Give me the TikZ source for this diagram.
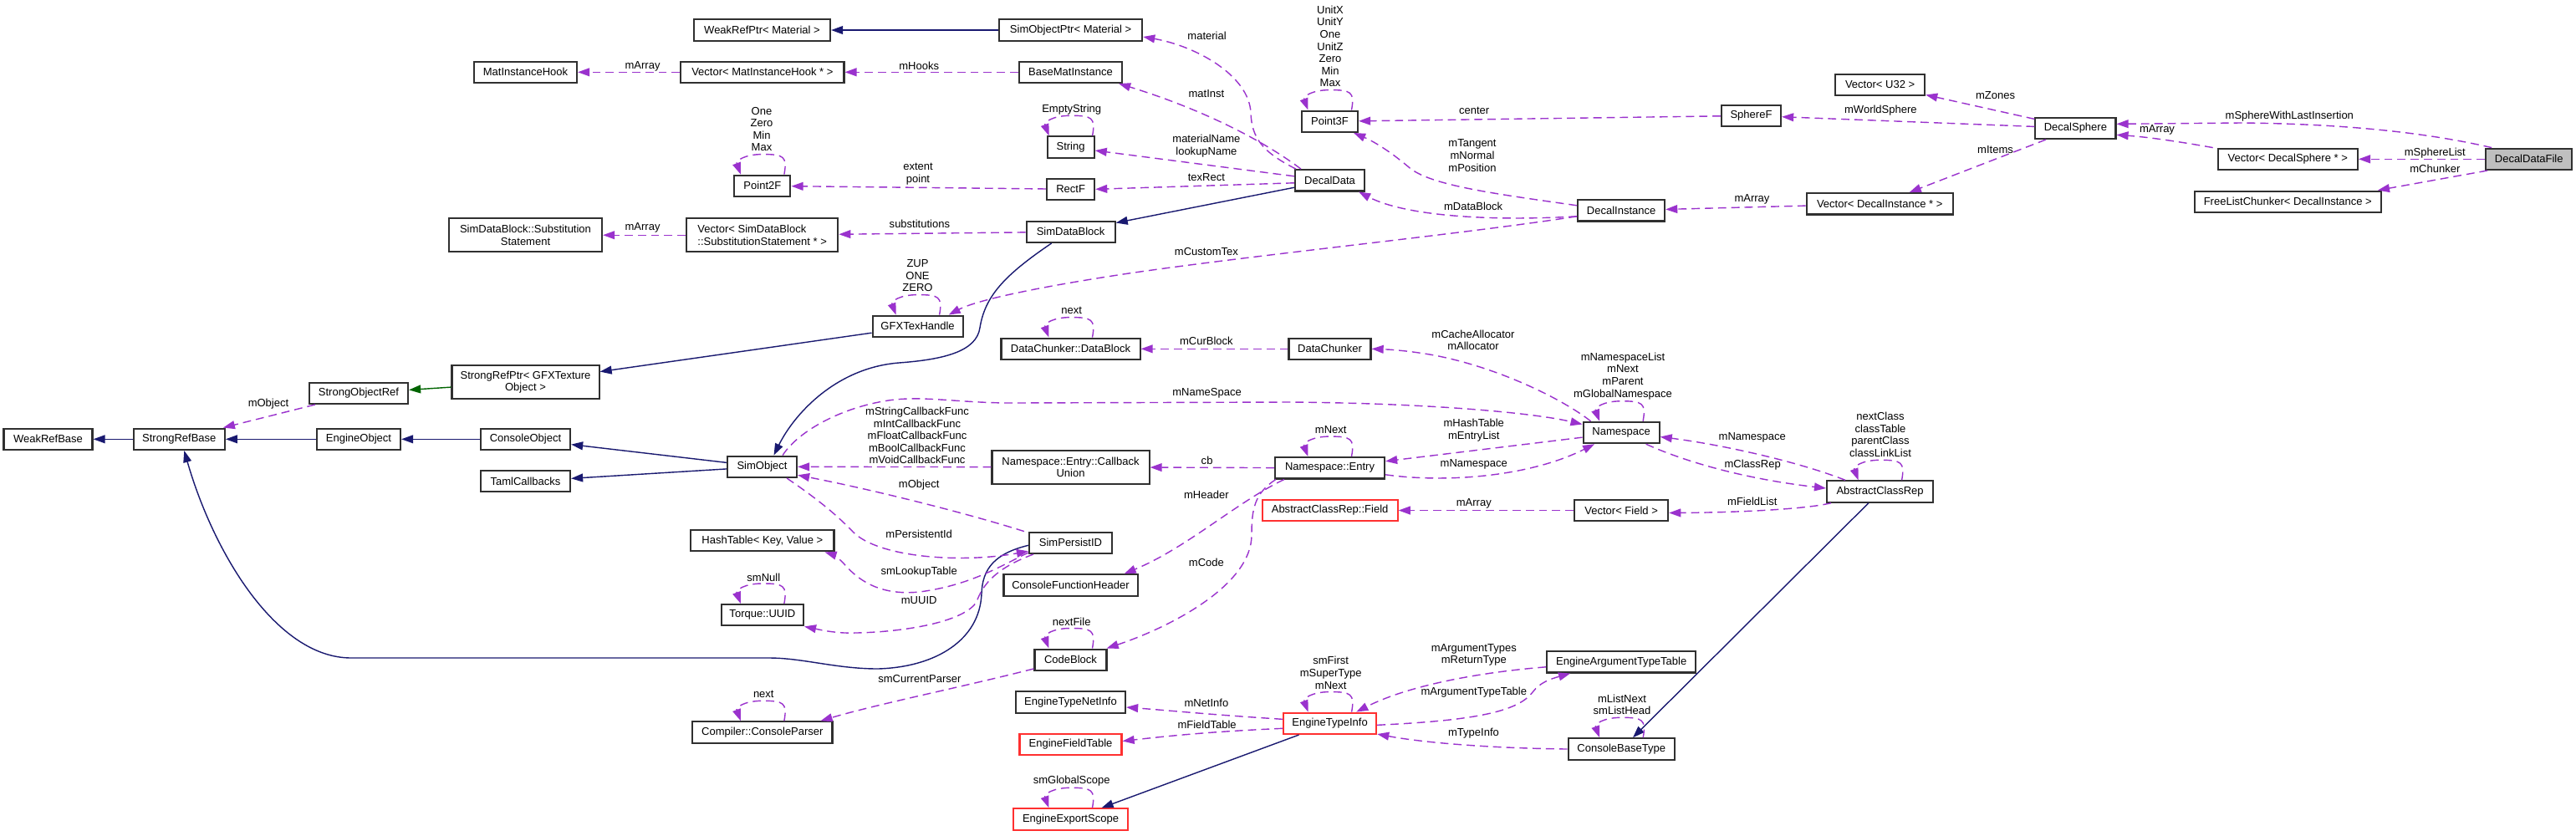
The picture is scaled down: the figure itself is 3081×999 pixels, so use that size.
\documentclass[tikz,border=0pt]{standalone}
\usepackage{fontspec}
\setmainfont{Liberation Sans}
\usetikzlibrary{arrows.meta}
\definecolor{depc}{HTML}{9A32CD}
\definecolor{inhc}{HTML}{191970}
\definecolor{grnc}{HTML}{006400}
\definecolor{boxc}{HTML}{303030}
\definecolor{redc}{HTML}{FF3030}
\definecolor{fillc}{HTML}{BFBFBF}
\newcommand\dgfont{\fontsize{3.7pt}{4.15pt}\selectfont}
\newcommand\selfloop[1]{\draw[dep] ([shift={(26,0)}]#1.north) .. controls +(4,-22) and +(25,0) .. ([shift={(0,-24)}]#1.north) .. controls +(-22,0) and +(-6,-16) .. ([shift={(-26,0)}]#1.north);}
\begin{document}
\begin{tikzpicture}[x=0.01cm,y=-0.01cm,
 box/.style={draw=boxc, line width=0.6pt, fill=white, inner sep=0pt, minimum height=0.253cm, font=\dgfont, align=center},
 box2/.style={box, minimum height=0.40cm},
 rbox/.style={box, draw=redc},
 dep/.style={draw=depc, line width=0.4pt, dash pattern=on 2.8pt off 1.7pt, -{Triangle[length=4pt,width=2.8pt]}},
 inh/.style={draw=inhc, line width=0.4pt, -{Triangle[length=4pt,width=2.8pt]}},
 lbl/.style={font=\dgfont, inner sep=0pt, align=center}]
\useasboundingbox[fill=white] (0,0) rectangle (3081,999);

% ---------- nodes ----------
\node[box, minimum width=1.06cm] (wrb) at (57.5,525.3) {WeakRefBase};
\node[box, minimum width=1.09cm] (srb) at (214.3,525.3) {StrongRefBase};
\node[box, minimum width=1.00cm] (eo) at (429,525.3) {EngineObject};
\node[box, minimum width=1.18cm] (sor) at (429,470.3) {StrongObjectRef};
\node[box, minimum width=1.07cm] (co) at (628.5,525.3) {ConsoleObject};
\node[box, minimum width=1.07cm] (taml) at (628.5,575.7) {TamlCallbacks};
\node[box2, minimum width=1.76cm] (srp) at (628.5,457.3) {StrongRefPtr< GFXTexture\\Object >};
\node[box2, minimum width=1.83cm] (sdbss) at (628.5,281.2) {SimDataBlock::Substitution\\Statement};
\node[box, minimum width=1.23cm] (mih) at (628.5,86.3) {MatInstanceHook};
\node[box, minimum width=1.63cm] (wrpm) at (911.5,36) {WeakRefPtr< Material >};
\node[box, minimum width=1.95cm] (vmih) at (911.9,86.3) {Vector< MatInstanceHook * >};
\node[box, minimum width=0.67cm] (p2f) at (911.9,222.3) {Point2F};
\node[box2, minimum width=1.81cm, align=left] (vsdb) at (911.7,281.2) {Vector< SimDataBlock\\::SubstitutionStatement * >};
\node[box, minimum width=0.83cm] (so) at (911.5,558.3) {SimObject};
\node[box, minimum width=1.71cm] (ht) at (911.9,646.7) {HashTable< Key, Value >};
\node[box, minimum width=0.98cm] (uuid) at (911.9,735.7) {Torque::UUID};
\node[box, minimum width=1.67cm] (cp) at (911.9,876) {Compiler::ConsoleParser};
\node[box, minimum width=1.08cm] (gfx) at (1097.6,390.3) {GFXTexHandle};
\node[box, minimum width=1.71cm] (sopm) at (1280.6,36) {SimObjectPtr< Material >};
\node[box, minimum width=1.23cm] (bmi) at (1280.5,86.3) {BaseMatInstance};
\node[box, minimum width=0.56cm] (str) at (1280.6,176) {String};
\node[box, minimum width=0.57cm] (rect) at (1280.6,226.3) {RectF};
\node[box, minimum width=1.06cm] (sdb) at (1280.6,277.3) {SimDataBlock};
\node[box, minimum width=1.66cm] (dcdb) at (1280.5,417.3) {DataChunker::DataBlock};
\node[box2, minimum width=1.88cm] (cbu) at (1280.5,558.7) {Namespace::Entry::Callback\\Union};
\node[box, minimum width=0.99cm] (spid) at (1280.5,649.3) {SimPersistID};
\node[box, minimum width=1.60cm] (cfh) at (1280.5,700) {ConsoleFunctionHeader};
\node[box, minimum width=0.86cm] (cb) at (1280.5,789.2) {CodeBlock};
\node[box, minimum width=1.31cm] (etni) at (1280.5,840) {EngineTypeNetInfo};
\node[rbox, minimum width=1.22cm] (eft) at (1280.5,890.5) {EngineFieldTable};
\node[rbox, minimum width=1.37cm] (ees) at (1280.5,980) {EngineExportScope};
\node[box, minimum width=0.67cm] (p3f) at (1590.5,145.3) {Point3F};
\node[box, minimum width=0.83cm] (dd) at (1590.5,215.8) {DecalData};
\node[box, minimum width=0.98cm] (dc) at (1590.5,417.3) {DataChunker};
\node[box, minimum width=1.31cm] (nse) at (1590.5,559.8) {Namespace::Entry};
\node[rbox, minimum width=1.62cm] (acrf) at (1590.6,610.5) {AbstractClassRep::Field};
\node[rbox, minimum width=1.11cm] (eti) at (1590.6,865.3) {EngineTypeInfo};
\node[box, minimum width=1.04cm] (di) at (1939.1,251.8) {DecalInstance};
\node[box, minimum width=0.91cm] (ns) at (1939.1,517.5) {Namespace};
\node[box, minimum width=1.12cm] (vf) at (1939.1,610.5) {Vector< Field >};
\node[box, minimum width=1.78cm] (eatt) at (1939.2,791.8) {EngineArgumentTypeTable};
\node[box, minimum width=1.27cm] (cbt) at (1939.2,896) {ConsoleBaseType};
\node[box, minimum width=0.71cm] (sph) at (2094.5,138.3) {SphereF};
\node[box, minimum width=1.07cm] (vu32) at (2248.6,101.3) {Vector< U32 >};
\node[box, minimum width=1.75cm] (vdi) at (2248.2,243.8) {Vector< DecalInstance * >};
\node[box, minimum width=1.27cm] (acr) at (2248.6,588) {AbstractClassRep};
\node[box, minimum width=0.96cm] (ds) at (2482.4,153.3) {DecalSphere};
\node[box, minimum width=1.67cm] (vds) at (2736.3,190.3) {Vector< DecalSphere * >};
\node[box, minimum width=2.23cm] (flc) at (2736.3,241.3) {FreeListChunker< DecalInstance >};
\node[box, minimum width=1.03cm, fill=fillc] (ddf) at (3024.7,190.3) {DecalDataFile};

% ---------- inheritance ----------
\draw[inh] (srb) -- (wrb);
\draw[inh] (eo) -- (srb);
\draw[inh] (co) -- (eo);
\draw[inh] (so) -- (co);
\draw[inh] (so) -- (taml);
\draw[inh] ([shift={(-23,0)}]sdb.south) .. controls (1200,330) and (1178,355) .. (1172,392) .. controls (1168,420) and (1130,430) .. (1075,434) .. controls (1000,440) and (950,495) .. ([shift={(14,0)}]so.north);
\draw[inh] (dd) -- (sdb);
\draw[inh] (gfx) -- (srp);
\draw[inh, draw=grnc] (srp) -- (sor);
\draw[inh] (sopm) -- (wrpm);
\draw[inh] ([shift={(0,3)}]spid.west) .. controls (1190,662) and (1175,680) .. (1174,710) .. controls (1172,765) and (1120,798) .. (1050,800) .. controls (1000,800) and (960,787) .. (920,787) -- (420,787) .. controls (330,787) and (255,660) .. ([shift={(6,0)}]srb.south);
\draw[inh] (eti) -- (ees);
\draw[inh] (acr) -- (cbt);

% ---------- usage ----------
\draw[dep] ([shift={(8,0)}]ddf.north west) .. controls (2900,158) and (2800,148) .. (2680,147) -- ([shift={(0,-5)}]ds.east);
\draw[dep] (ddf) -- (vds);
\draw[dep] ([shift={(3,0)}]ddf.south west) -- ([shift={(-5,0)}]flc.north east);
\draw[dep] ([shift={(-5,0)}]vds.north west) .. controls (2610,170) and (2570,164) .. ([shift={(0,8)}]ds.east);
\draw[dep] (ds) -- (vu32);
\draw[dep] (ds) -- (sph);
\draw[dep] (ds) -- (vdi);
\draw[dep] (vdi) -- (di);
\draw[dep] (sph) -- (p3f);
\draw[dep] ([shift={(0,-6)}]di.west) .. controls (1790,232) and (1710,222) .. (1685,200) .. controls (1665,183) and (1645,170) .. ([shift={(-6,0)}]p3f.south east);
\draw[dep] ([shift={(0,7)}]di.west) .. controls (1780,265) and (1680,258) .. ([shift={(-8,0)}]dd.south east);
\draw[dep] ([shift={(0,7)}]di.west) .. controls (1750,280) and (1500,305) .. (1350,327) .. controls (1250,342) and (1170,358) .. ([shift={(-18,0)}]gfx.north east);
\draw[dep] ([shift={(2,0)}]dd.north west) .. controls (1510,182) and (1497,165) .. (1496,135) .. controls (1494,90) and (1430,55) .. ([shift={(0,8)}]sopm.east);
\draw[dep] ([shift={(8,0)}]dd.north west) .. controls (1500,160) and (1420,125) .. ([shift={(-5,0)}]bmi.south east);
\draw[dep] ([shift={(0,-5)}]dd.west) -- ([shift={(0,4)}]str.east);
\draw[dep] ([shift={(0,3)}]dd.west) -- (rect.east);
\draw[dep] (rect) -- (p2f);
\draw[dep] (vmih) -- (mih);
\draw[dep] (bmi) -- (vmih);
\draw[dep] (sdb) -- (vsdb);
\draw[dep] (vsdb) -- (sdbss);
\draw[dep] ([shift={(8,0)}]sor.south west) -- ([shift={(-3,0)}]srb.north east);
\draw[dep] (dc) -- (dcdb);
\draw[dep] ([shift={(10,0)}]ns.north west) .. controls (1870,478) and (1790,438) .. (1710,424) .. controls (1680,419) and (1660,418) .. (dc.east);
\draw[dep] ([shift={(-18,0)}]so.north east) .. controls (955,515) and (1010,485) .. (1070,478) .. controls (1110,474) and (1150,482) .. (1210,482) -- (1540,481) .. controls (1700,482) and (1830,493) .. ([shift={(0,-10)}]ns.west);
\draw[dep] (cbu) -- (so);
\draw[dep] (nse) -- (cbu);
\draw[dep] ([shift={(-5,0)}]spid.north west) .. controls (1150,612) and (1040,585) .. ([shift={(0,10)}]so.east);
\draw[dep] ([shift={(-13,0)}]so.south east) .. controls (975,595) and (1000,615) .. (1020,636) .. controls (1050,667) and (1150,674) .. ([shift={(0,10)}]spid.west);
\draw[dep] ([shift={(0,-2)}]spid.south west) .. controls (1195,678) and (1160,700) .. (1100,708) .. controls (1050,713) and (1025,692) .. (1010,675) .. controls (1003,667) and (995,663) .. ([shift={(-12,0)}]ht.south east);
\draw[dep] ([shift={(6,0)}]spid.south west) .. controls (1190,680) and (1175,700) .. (1168,720) .. controls (1150,748) and (1060,758) .. (1010,757) .. controls (990,756) and (975,752) .. (uuid.south east);
\draw[dep] ([shift={(0,-3)}]cb.south west) .. controls (1150,822) and (1050,842) .. ([shift={(-15,0)}]cp.north east);
\draw[dep] ([shift={(12,0)}]nse.south west) .. controls (1480,600) and (1420,655) .. ([shift={(-17,0)}]cfh.north east);
\draw[dep] ([shift={(2,0)}]nse.south west) .. controls (1500,590) and (1497,610) .. (1497,640) .. controls (1497,700) and (1400,750) .. ([shift={(-1,0)}]cb.north east);
\draw[dep] (ns) -- (nse);
\draw[dep] ([shift={(0,8)}]nse.east) .. controls (1730,578) and (1830,570) .. ([shift={(-32,0)}]ns.south);
\draw[dep] ([shift={(23,0)}]acr.north west) .. controls (2150,552) and (2060,532) .. ([shift={(0,5)}]ns.east);
\draw[dep] ([shift={(-17,0)}]ns.south east) .. controls (2010,550) and (2080,572) .. ([shift={(0,-4)}]acr.west);
\draw[dep] ([shift={(6,0)}]acr.south west) .. controls (2160,609) and (2080,613) .. ([shift={(0,3)}]vf.east);
\draw[dep] (vf) -- (acrf);
\draw[dep] ([shift={(0,-5)}]eti.west) .. controls (1450,855) and (1400,850) .. ([shift={(0,6)}]etni.east);
\draw[dep] ([shift={(0,6)}]eti.west) .. controls (1450,875) and (1400,880) .. ([shift={(0,-4)}]eft.east);
\draw[dep] ([shift={(0,6)}]eatt.west) .. controls (1760,805) and (1680,822) .. ([shift={(-25,0)}]eti.north east);
\draw[dep] ([shift={(0,2)}]eti.east) .. controls (1760,862) and (1815,852) .. (1833,828) .. controls (1842,816) and (1855,812) .. ([shift={(29,0)}]eatt.south west);
\draw[dep] (cbt.west) .. controls (1780,895) and (1700,888) .. ([shift={(0,-1)}]eti.south east);

% self loops
\selfloop{p2f}
\selfloop{str}
\selfloop{gfx}
\selfloop{dcdb}
\selfloop{p3f}
\selfloop{ns}
\selfloop{uuid}
\selfloop{cp}
\selfloop{cb}
\selfloop{ees}
\selfloop{nse}
\selfloop{eti}
\selfloop{cbt}
\selfloop{acr}

% ---------- labels ----------
\node[lbl] (t1) at (2738.3,139.3) {mSphereWithLastInsertion};
\node[lbl] (t2) at (2912.3,182.7) {mSphereList};
\node[lbl] (t3) at (2912.3,202.3) {mChunker};
\node[lbl] (t4) at (2580,155.3) {mArray};
\node[lbl] (t5) at (2386.5,114.3) {mZones};
\node[lbl] (t6) at (2249.4,132.3) {mWorldSphere};
\node[lbl] (t7) at (2386.5,178.7) {mItems};
\node[lbl] (t8) at (2095.5,238.7) {mArray};
\node[lbl] (t9) at (1763.2,132.7) {center};
\node[lbl] (t10) at (1761,186) {mTangent\\mNormal\\mPosition};
\node[lbl] (t11) at (1762.1,246.7) {mDataBlock};
\node[lbl] (t12) at (1442.9,301) {mCustomTex};
\node[lbl] (t13) at (1443.6,43.3) {material};
\node[lbl] (t14) at (1442.9,111.7) {matInst};
\node[lbl] (t15) at (1442.9,174.8) {materialName\\lookupName};
\node[lbl] (t16) at (1442.9,212.3) {texRect};
\node[lbl] (t17) at (1098,208.2) {extent\\point};
\node[lbl] (t18) at (768.6,79) {mArray};
\node[lbl] (t19) at (1099.2,78.7) {mHooks};
\node[lbl] (t20) at (1099.9,268.3) {substitutions};
\node[lbl] (t21) at (768.6,272.7) {mArray};
\node[lbl] (t22) at (321,483.3) {mObject};
\node[lbl] (t23) at (1442.9,408.3) {mCurBlock};
\node[lbl] (t24) at (1762,406.8) {mCacheAllocator\\mAllocator};
\node[lbl] (t25) at (1941,449.8) {mNamespaceList\\mNext\\mParent\\mGlobalNamespace};
\node[lbl] (t26) at (1443.6,470.7) {mNameSpace};
\node[lbl] (t27) at (1097,521) {mStringCallbackFunc\\mIntCallbackFunc\\mFloatCallbackFunc\\mBoolCallbackFunc\\mVoidCallbackFunc};
\node[lbl] (t28) at (1443.6,550.7) {cb};
\node[lbl] (t29) at (1099.2,580.3) {mObject};
\node[lbl] (t30) at (1099.2,639.3) {mPersistentId};
\node[lbl] (t31) at (1099.2,684.3) {smLookupTable};
\node[lbl] (t32) at (1099.2,718.3) {mUUID};
\node[lbl] (t33) at (913.3,690.7) {smNull};
\node[lbl] (t34) at (1099.9,811.7) {smCurrentParser};
\node[lbl] (t35) at (913.3,830.7) {next};
\node[lbl] (t36) at (1442.9,591.7) {mHeader};
\node[lbl] (t37) at (1442.9,672.7) {mCode};
\node[lbl] (t38) at (1591.7,514.3) {mNext};
\node[lbl] (t39) at (1762.8,514.8) {mHashTable\\mEntryList};
\node[lbl] (t40) at (1762.8,555.7) {mNamespace};
\node[lbl] (t41) at (2095.8,523.3) {mNamespace};
\node[lbl] (t42) at (2096.2,555.7) {mClassRep};
\node[lbl] (t43) at (2095.8,600) {mFieldList};
\node[lbl] (t44) at (1762.8,602.7) {mArray};
\node[lbl] (t45) at (2249,520) {nextClass\\classTable\\parentClass\\classLinkList};
\node[lbl] (t46) at (1442.9,840.7) {mNetInfo};
\node[lbl] (t47) at (1443.6,867.3) {mFieldTable};
\node[lbl] (t48) at (1591.7,804.8) {smFirst\\mSuperType\\mNext};
\node[lbl] (t49) at (1762.8,783.2) {mArgumentTypes\\mReturnType};
\node[lbl] (t50) at (1762.8,828.3) {mArgumentTypeTable};
\node[lbl] (t51) at (1762.5,876.7) {mTypeInfo};
\node[lbl] (t52) at (1940,842.8) {mListNext\\smListHead};
\node[lbl] (t53) at (911,154.5) {One\\Zero\\Min\\Max};
\node[lbl] (t54) at (1281.7,130.7) {EmptyString};
\node[lbl] (t55) at (1097.5,329.7) {ZUP\\ONE\\ZERO};
\node[lbl] (t56) at (1281.7,371.7) {next};
\node[lbl] (t57) at (1591,55.5) {UnitX\\UnitY\\One\\UnitZ\\Zero\\Min\\Max};
\node[lbl] (t58) at (1281.7,743.7) {nextFile};
\node[lbl] (t59) at (1281.7,934.3) {smGlobalScope};
\end{tikzpicture}
\end{document}
